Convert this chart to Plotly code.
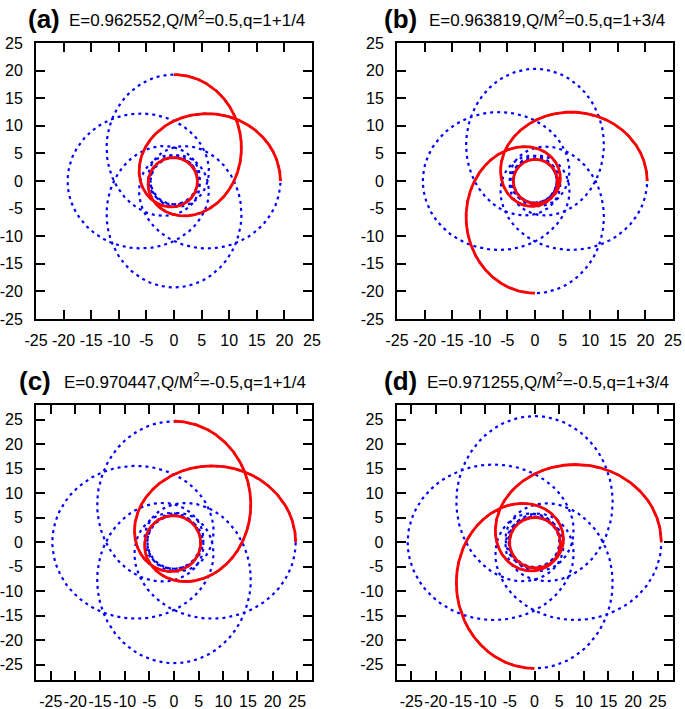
import numpy as np
import plotly.graph_objects as go

# ---- data (parameters printed in the panel titles) ----
panel_tags = ["(a)", "(b)", "(c)", "(d)"]
energy = [0.962552, 0.963819, 0.970447, 0.971255]
charge = [0.5, 0.5, -0.5, -0.5]          # Q/M^2
q_whirl = [1, 1, 1, 1]                   # w in q = w + v/z
q_vertex = [1, 3, 1, 3]                  # v
q_zoom = [4, 4, 4, 4]                    # z (number of leaves)
axis_limit = [25, 25, 28, 28]
tick_values = [-25, -20, -15, -10, -5, 0, 5, 10, 15, 20, 25]
tick_text = ["-25", "-20", "-15", "-10", "-5", "0", "5", "10", "15", "20", "25"]


def radial_period(E, Q, L, n=20000):
    """Geodesic of f(r)=1-2/r+Q/r^2 (M=1): one radial period, apoapsis -> apoapsis."""
    c = [-Q * L * L, 2 * L * L, -(Q + L * L), 2.0, E * E - 1.0]
    rts = np.roots(c)
    real = np.sort(rts[np.abs(rts.imag) < 1e-10].real)
    pos = real[real > 0]
    if len(pos) < 2:
        return None
    u1, u2 = pos[0], pos[1]
    if 1.0 / u2 < 3.0:
        return None
    quo, _ = np.polydiv(np.array(c), np.array([1.0, -(u1 + u2), u1 * u2]))
    chi = np.linspace(0.0, 2 * np.pi, n + 1)
    u = u1 + (u2 - u1) * (1 - np.cos(chi)) / 2
    G = -np.polyval(quo, u)
    if np.any(G <= 0):
        return None
    dphi = L / np.sqrt(G)
    phi = np.concatenate([[0.0], np.cumsum(0.5 * (dphi[1:] + dphi[:-1]) * np.diff(chi))])
    return u, phi


def q_of(E, Q, L):
    res = radial_period(E, Q, L, n=6000)
    if res is None:
        return None
    return res[1][-1] / (2 * np.pi) - 1.0


def find_L(E, Q, qt):
    Ls = np.linspace(3.0, 6.0, 1501)
    qs = [q_of(E, Q, L) for L in Ls]
    lo = hi = None
    for i in range(len(Ls) - 1, 0, -1):
        a, b = qs[i - 1], qs[i]
        if a is not None and b is not None and (a - qt) * (b - qt) <= 0:
            lo, hi = Ls[i - 1], Ls[i]
            break
    for _ in range(60):
        mid = 0.5 * (lo + hi)
        qm = q_of(E, Q, mid)
        if qm is None or qm > qt:
            lo = mid
        else:
            hi = mid
    return 0.5 * (lo + hi)


fig = go.Figure()

x_dom = [[36 / 685, 312 / 685], [397 / 685, 673 / 685],
         [36 / 685, 312 / 685], [396.5 / 685, 672.5 / 685]]
y_dom = [[1 - 319 / 709, 1 - 43 / 709], [1 - 319 / 709, 1 - 43 / 709],
         [1 - 679.5 / 709, 1 - 405 / 709], [1 - 679.5 / 709, 1 - 405 / 709]]
tag_x = [26, 382, 17, 382]
txt_x = [67, 427, 62, 425]
title_y = [19, 19, 381, 381]

FONT = "Liberation Sans, Arial, sans-serif"

for i in range(4):
    E, Q = energy[i], charge[i]
    qt = q_whirl[i] + q_vertex[i] / q_zoom[i]
    L = find_L(E, Q, qt)
    u, phi = radial_period(E, Q, L)
    dP = phi[-1]
    r = 1.0 / u
    bx, by = [], []
    for k in range(q_zoom[i]):
        ph = phi + k * dP
        bx.append(r * np.cos(ph))
        by.append(r * np.sin(ph))
    bx = np.concatenate(bx)
    by = np.concatenate(by)
    rx = r * np.cos(phi)
    ry = r * np.sin(phi)
    sfx = "" if i == 0 else str(i + 1)
    fig.add_trace(go.Scatter(x=bx, y=by, mode="lines",
                             line=dict(color="#0000ff", width=2.2, dash="3px,4px"),
                             xaxis="x" + sfx, yaxis="y" + sfx, showlegend=False,
                             hoverinfo="skip"))
    fig.add_trace(go.Scatter(x=rx, y=ry, mode="lines",
                             line=dict(color="#ff0000", width=2.8),
                             xaxis="x" + sfx, yaxis="y" + sfx, showlegend=False,
                             hoverinfo="skip"))
    ax = dict(range=[-axis_limit[i], axis_limit[i]], tickvals=tick_values,
              ticktext=tick_text,
              ticks="inside", ticklen=9, tickwidth=1.5, tickcolor="black",
              showline=True, linewidth=2, linecolor="black", mirror="ticks",
              showgrid=False, zeroline=False, tickangle=0, automargin=False,
              tickfont=dict(family=FONT, size=16, color="black"))
    fig.layout["xaxis" + sfx] = dict(ax, domain=x_dom[i], anchor="y" + sfx,
                                     ticklabelstandoff=6)
    fig.layout["yaxis" + sfx] = dict(ax, domain=y_dom[i], anchor="x" + sfx,
                                     ticklabelstandoff=8)
    fig.add_annotation(x=tag_x[i] / 685, y=1 - title_y[i] / 709, xref="paper", yref="paper",
                       text="<b>" + panel_tags[i] + "</b>", showarrow=False,
                       xanchor="left", yanchor="middle",
                       font=dict(family=FONT, size=26, color="black"))
    fig.add_annotation(x=txt_x[i] / 685, y=1 - title_y[i] / 709, xref="paper", yref="paper",
                       text="E=%s,Q/M<sup>2</sup>=%s,q=%d+%d/%d" % (
                           repr(E), repr(Q), q_whirl[i], q_vertex[i], q_zoom[i]),
                       showarrow=False, xanchor="left", yanchor="middle",
                       font=dict(family=FONT, size=17, color="black"))

fig.update_layout(width=685, height=709, margin=dict(l=0, r=0, t=0, b=0),
                  paper_bgcolor="white", plot_bgcolor="white")
fig.write_html("out.html", config={"displayModeBar": False},
               post_script="document.body.style.margin='0';document.body.style.padding='0';")
